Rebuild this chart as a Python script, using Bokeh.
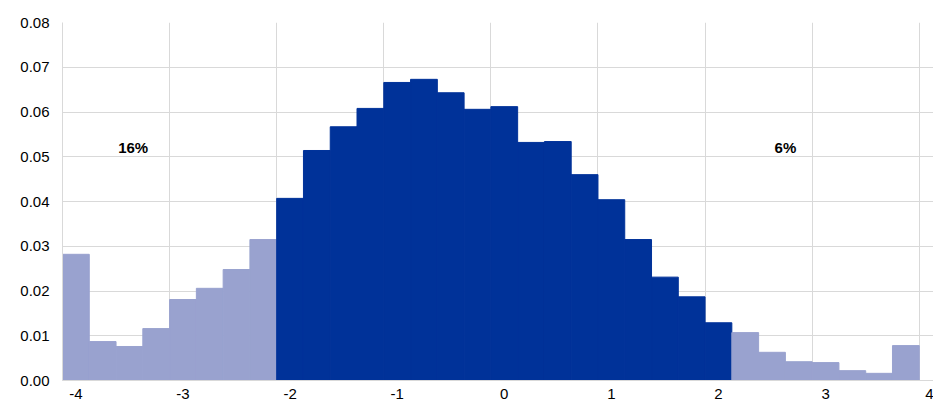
from bokeh.plotting import figure
from bokeh.models import ColumnDataSource, FixedTicker, Range1d, NumeralTickFormatter
from bokeh.core.properties import value
from bokeh.embed import file_html
from bokeh.resources import INLINE

# ---- data -------------------------------------------------------------
bin_left = [-4.00, -3.75, -3.50, -3.25, -3.00, -2.75, -2.50, -2.25,
            -2.00, -1.75, -1.50, -1.25, -1.00, -0.75, -0.50, -0.25,
             0.00,  0.25,  0.50,  0.75,  1.00,  1.25,  1.50,  1.75,
             2.00,  2.25,  2.50,  2.75,  3.00,  3.25,  3.50,  3.75]
bin_width = 0.25
density = [0.0282, 0.0087, 0.0076, 0.0116, 0.0181, 0.0206, 0.0248, 0.0315,
           0.0407, 0.0514, 0.0567, 0.0608, 0.0666, 0.0673, 0.0643, 0.0606,
           0.0612, 0.0532, 0.0534, 0.0460, 0.0404, 0.0315, 0.0231, 0.0187,
           0.0129, 0.0107, 0.0063, 0.0042, 0.0040, 0.0022, 0.0016, 0.0078]
lower_cut = -2.0
upper_cut = 2.25
tail_labels = ["16%", "6%"]
tail_label_x = [-3.34, 2.75]
tail_label_y = [0.052, 0.052]

x_ticks = [-4, -3, -2, -1, 0, 1, 2, 3, 4]
x_tick_labels = ["-4", "-3", "-2", "-1", "0", "1", "2", "3", "4"]
y_ticks = [0.00, 0.01, 0.02, 0.03, 0.04, 0.05, 0.06, 0.07, 0.08]

DARK = "#003299"
LIGHT = "#99a2cf"
GRID = "#d9d9d9"
FONT = "Liberation Sans"

colors = [DARK if (l >= lower_cut and l < upper_cut) else LIGHT for l in bin_left]
src = ColumnDataSource(dict(
    left=bin_left,
    right=[l + bin_width for l in bin_left],
    top=density,
    bottom=[0] * len(density),
    color=colors,
))

p = figure(width=933, height=405, output_backend="svg", toolbar_location=None,
           x_range=Range1d(-4, 4.133), y_range=Range1d(0, 0.08),
           min_border_left=62, min_border_right=0, min_border_top=22,
           min_border_bottom=25)
p.outline_line_color = None
p.background_fill_color = "white"

p.quad(left="left", right="right", top="top", bottom="bottom", source=src,
       fill_color="color", line_color="color", line_width=1)

p.text(x=tail_label_x, y=tail_label_y, text=tail_labels,
       text_font=value(FONT), text_font_size="15px", text_font_style="bold",
       text_align="center", text_baseline="middle", text_color="black")

# x axis: labels sit half a bin to the right of the gridlines
label_pos = [t + bin_width / 2 for t in x_ticks]
p.xaxis.ticker = FixedTicker(ticks=label_pos)
p.xaxis.major_label_overrides = {pos: lab for pos, lab in zip(label_pos, x_tick_labels)}
p.xgrid.ticker = FixedTicker(ticks=x_ticks)
p.xaxis.major_tick_line_color = None
p.xaxis.minor_tick_line_color = None
p.xaxis.major_tick_out = 0
p.xaxis.major_label_standoff = 8
p.xaxis.axis_line_color = GRID
p.xaxis.major_label_text_font = FONT
p.xaxis.major_label_text_font_size = "15px"
p.xaxis.major_label_text_color = "black"

p.yaxis.ticker = FixedTicker(ticks=y_ticks)
p.yaxis.formatter = NumeralTickFormatter(format="0.00")
p.yaxis.major_tick_line_color = None
p.yaxis.minor_tick_line_color = None
p.yaxis.major_tick_out = 0
p.yaxis.major_label_standoff = 13
p.yaxis.axis_line_color = GRID
p.yaxis.major_label_text_font = FONT
p.yaxis.major_label_text_font_size = "15px"
p.yaxis.major_label_text_color = "black"

p.xgrid.grid_line_color = GRID
p.ygrid.grid_line_color = GRID
p.xgrid.grid_line_width = 1
p.ygrid.grid_line_width = 1

open("out.html", "w").write(file_html(p, INLINE))
